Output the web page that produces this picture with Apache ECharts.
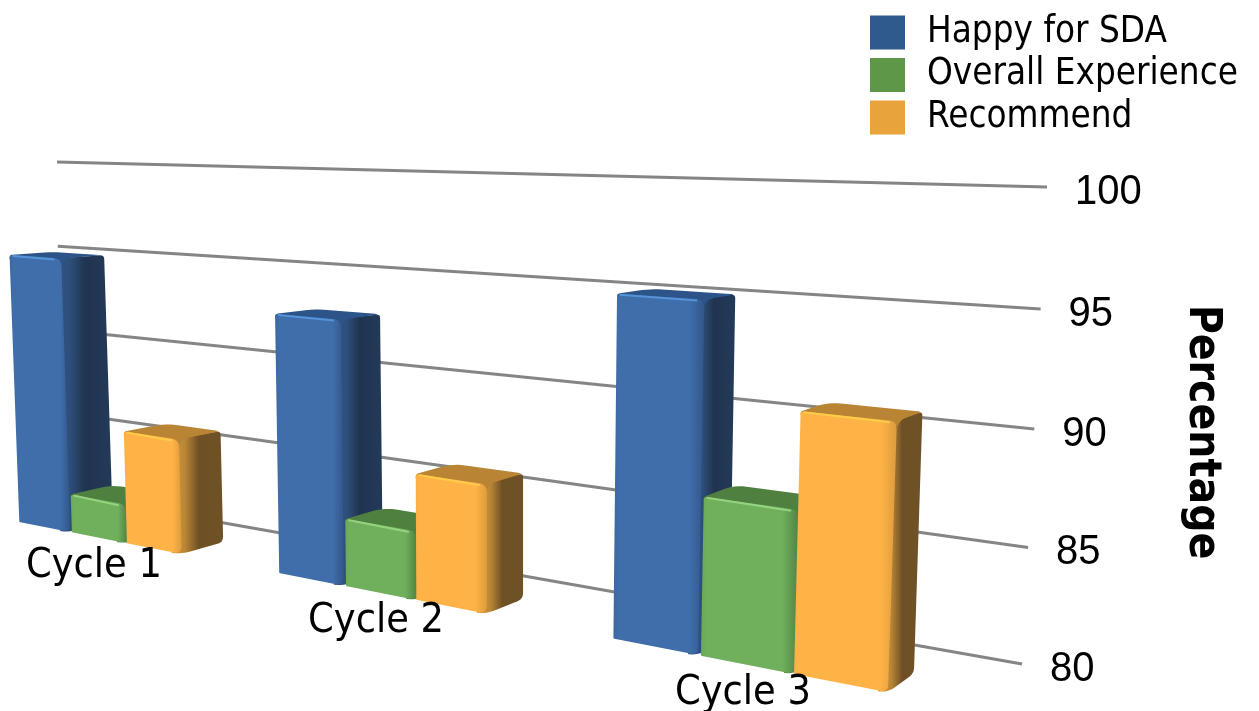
<!DOCTYPE html>
<html>
<head>
<meta charset="utf-8">
<style>html,body{margin:0;padding:0;background:#fff}#chart{width:1259px;height:711px}</style>
<script src="https://cdn.jsdelivr.net/npm/echarts@6/dist/echarts.min.js"></script>
</head>
<body>
<div id="chart"></div>
<script>
// Survey results per cycle, drawn as perspective columns above a slanted back wall.
const categories = ['Cycle 1', 'Cycle 2', 'Cycle 3'];
const happyForSda = [94.9, 92.9, 95];
const overallExperience = [82.1, 83.3, 86.8];
const recommend = [86, 86, 90.8];
const yTicks = [80, 85, 90, 95, 100];
const axisTitle = 'Percentage';

const FONT = '"DejaVu Sans Condensed", "DejaVu Sans", sans-serif';

// Maps the unit square onto a quad given as TL, TR, BR, BL.
function quadMapper(q) {
  const [p0, p1, p2, p3] = q;
  const dx1 = p1[0] - p2[0], dx2 = p3[0] - p2[0], dx3 = p0[0] - p1[0] + p2[0] - p3[0];
  const dy1 = p1[1] - p2[1], dy2 = p3[1] - p2[1], dy3 = p0[1] - p1[1] + p2[1] - p3[1];
  const det = dx1 * dy2 - dx2 * dy1;
  const g = (dx3 * dy2 - dx2 * dy3) / det, h = (dx1 * dy3 - dx3 * dy1) / det;
  const a = p1[0] - p0[0] + g * p1[0], b = p3[0] - p0[0] + h * p3[0], c = p0[0];
  const d = p1[1] - p0[1] + g * p1[1], e = p3[1] - p0[1] + h * p3[1], f = p0[1];
  return (u, v) => {
    const w = g * u + h * v + 1;
    return [(a * u + b * v + c) / w, (d * u + e * v + f) / w];
  };
}

const frontPlane = quadMapper([[-31, 160], [999, 183], [978, 710], [-17, 515]]);
const backWall = quadMapper([[57, 162], [1047, 187], [1022, 664], [60, 494]]);
const VANISH = [1640, 142];

// Pixel position inside the grid converted to the unit square.
function unit(params, pt) {
  const cs = params.coordSys;
  return [(pt[0] - cs.x) / cs.width, (pt[1] - cs.y) / cs.height];
}

// Pushes a front-plane point toward the vanishing point to get the column's rear corner.
function rear(p, u) {
  const k = 0.026 + 0.009 * u;
  return [p[0] + k * (VANISH[0] - p[0]), p[1] + k * (VANISH[1] - p[1])];
}

// Replaces polygon corners with short quadratic arcs.
function rounded(pts, radii) {
  const out = [];
  const n = pts.length;
  for (let i = 0; i < n; i++) {
    const p = pts[i], a = pts[(i + n - 1) % n], b = pts[(i + 1) % n], r = radii[i];
    if (!r) { out.push(p); continue; }
    const la = Math.hypot(a[0] - p[0], a[1] - p[1]), lb = Math.hypot(b[0] - p[0], b[1] - p[1]);
    const s = [p[0] + (a[0] - p[0]) * r / la, p[1] + (a[1] - p[1]) * r / la];
    const t = [p[0] + (b[0] - p[0]) * r / lb, p[1] + (b[1] - p[1]) * r / lb];
    for (let j = 0; j <= 6; j++) {
      const m = j / 6, q = 1 - m;
      out.push([q * q * s[0] + 2 * q * m * p[0] + m * m * t[0], q * q * s[1] + 2 * q * m * p[1] + m * m * t[1]]);
    }
  }
  return out;
}

const lg = (stops) => new echarts.graphic.LinearGradient(0, 0, 1, 0, stops.map((s) => ({ offset: s[0], color: s[1] })));

// Column edges within a category band, as fractions of the band from its centre.
function columnRenderer(edges, tone) {
  return function (params, api) {
    const idx = api.value(0), val = api.value(1);
    const band = api.size([1, 0])[0];
    const top = api.coord([idx, val]), base = api.coord([idx, 80]);
    const uL = unit(params, [top[0] + edges[0] * band, 0])[0], uR = unit(params, [top[0] + edges[1] * band, 0])[0];
    const vT = unit(params, top)[1], vB = unit(params, base)[1];
    const TL = frontPlane(uL, vT), TR = frontPlane(uR, vT);
    const BR = frontPlane(uR, vB), BL = frontPlane(uL, vB);
    const rTL = rear(TL, uL), rTR = rear(TR, uR), rBR = rear(BR, uR);
    const under = (p, dx, dy) => [p[0] + dx, p[1] + dy];
    return {
      type: 'group',
      children: [
        { type: 'polygon', shape: { points: rounded([under(TR, -10, 0), rTR, rBR, BR, under(BR, -10, -1)], [0, 4, 6, 9, 0]) },
          style: { fill: lg([[0, tone.bevelSoft], [0.3, tone.bevel], [0.55, tone.side], [1, tone.sideEnd]]) } },
        { type: 'polygon', shape: { points: rounded([under(TL, 0, 4), TL, rTL, rTR, TR, under(TR, 0, 4)], [0, 3, 12, 5, 10, 0]) },
          style: { fill: tone.top } },
        { type: 'polygon', shape: { points: rounded([TL, TR, BR, BL], [3, 8, 8, 1]) },
          style: { fill: lg([[0, tone.frontEdge], [0.06, tone.front], [0.84, tone.front], [1, tone.bevelSoft]]) } },
        { type: 'polyline', shape: { points: [[TL[0] + 3, TL[1] + 1], [TR[0] - 7, TR[1] + 1]] },
          style: { stroke: tone.glint, lineWidth: 2, fill: null, opacity: 0.8 } }
      ]
    };
  };
}

const tones = {
  blue: { front: '#3f6eaa', frontEdge: '#3b68a2', bevel: '#2e4f7c', bevelSoft: '#33568a', side: '#20344f', sideEnd: '#223a5a', top: '#2c5488', glint: '#5b9de6' },
  green: { front: '#70b05c', frontEdge: '#6aa857', bevel: '#5a9049', bevelSoft: '#528544', side: '#4d7a3f', sideEnd: '#4f7f42', top: '#508040', glint: '#a0dc88' },
  orange: { front: '#ffb347', frontEdge: '#fbb045', bevel: '#b98535', bevelSoft: '#dd9c3c', side: '#6f5025', sideEnd: '#6e5226', top: '#b98535', glint: '#ffd24a' }
};

const asPairs = (values) => values.map((v, i) => [i, v]);

const chart = echarts.init(document.getElementById('chart'));
chart.setOption({
  animation: false,
  backgroundColor: '#ffffff',
  grid: { left: 100, top: 100, width: 900, height: 500 },
  xAxis: { type: 'category', data: categories, show: false },
  yAxis: { type: 'value', min: 80, max: 100, interval: 5, show: false },
  legend: {
    data: ['Happy for SDA', 'Overall Experience', 'Recommend'],
    orient: 'vertical', left: 865, top: 9,
    icon: 'rect', itemWidth: 35, itemHeight: 34, itemGap: 5.5,
    selectedMode: false,
    textStyle: { fontFamily: FONT, fontSize: 36.5, color: '#000', padding: [0, 0, 0, 17] }
  },
  series: [
    {
      type: 'custom', name: 'wall', z: 1, silent: true,
      data: yTicks.map((t) => [0, t]),
      renderItem(params, api) {
        const v = unit(params, api.coord([0, api.value(1)]))[1];
        const a = backWall(0, v), b = backWall(1, v);
        return {
          type: 'group',
          children: [
            { type: 'line', shape: { x1: a[0], y1: a[1], x2: b[0], y2: b[1] }, style: { stroke: '#858585', lineWidth: 3 } },
            { type: 'text', x: b[0] + 28, y: b[1] + 5, scaleY: 1.08,
              style: { text: String(api.value(1)), x: 0, y: 0, fontFamily: '"Liberation Sans", sans-serif', fontSize: 40, fill: '#000', textAlign: 'left', textVerticalAlign: 'middle' } }
          ]
        };
      }
    },
    { type: 'custom', name: 'Happy for SDA', z: 2, itemStyle: { color: '#2e5a8e' }, data: asPairs(happyForSda), renderItem: columnRenderer([-0.34, -0.125], tones.blue) },
    { type: 'custom', name: 'Overall Experience', z: 2, itemStyle: { color: '#5e9748' }, data: asPairs(overallExperience), renderItem: columnRenderer([-0.118, 0.103], tones.green) },
    { type: 'custom', name: 'Recommend', z: 2, itemStyle: { color: '#e8a33d' }, data: asPairs(recommend), renderItem: columnRenderer([0.103, 0.312], tones.orange) },
    {
      type: 'custom', name: 'cycle labels', z: 3, silent: true,
      data: categories.map((c, i) => [i, 80]),
      renderItem(params, api) {
        const p = unit(params, api.coord([api.value(0), 80]));
        const g = frontPlane(p[0], p[1]);
        return { type: 'text', style: { text: categories[api.value(0)], x: g[0] - 7, y: g[1] + 28, fontFamily: FONT, fontSize: 41, fill: '#000', textAlign: 'center', textVerticalAlign: 'middle' } };
      }
    }
  ],
  graphic: [
    { type: 'text', rotation: -Math.PI / 2, x: 1201, y: 432,
      style: { text: axisTitle, fontFamily: FONT, fontWeight: 'bold', fontSize: 44, fill: '#000', textAlign: 'center', textVerticalAlign: 'middle' } }
  ]
});
</script>
</body>
</html>
